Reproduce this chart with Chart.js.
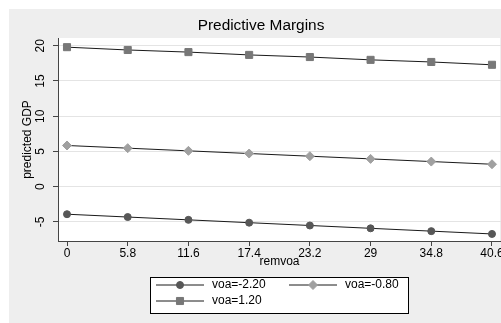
<!DOCTYPE html>
<html>
<head>
<meta charset="utf-8">
<script src="https://cdn.jsdelivr.net/npm/chart.js@4.4.1/dist/chart.umd.min.js"></script>
<style>
  body { margin: 0; background: #fff; }
  #wrap { width: 501px; height: 323px; }
</style>
</head>
<body>
<div id="wrap"><canvas id="marginsChart" width="501" height="323"></canvas></div>
<script>
// remvoa values (x axis ticks and points)
const remvoa = [0, 5.8, 11.6, 17.4, 23.2, 29, 34.8, 40.6];
const yTicks = [-5, 0, 5, 10, 15, 20];

// predicted GDP for each voa level
const voaLow = [-3.9, -4.3, -4.7, -5.1, -5.5, -5.9, -6.3, -6.7];   // voa=-2.20
const voaMid = [5.85, 5.47, 5.09, 4.71, 4.33, 3.95, 3.57, 3.19];  // voa=-0.80
const voaHigh = [19.8, 19.4, 19.1, 18.7, 18.4, 18.0, 17.7, 17.3]; // voa=1.20

const FONT = 'Liberation Sans, Arial, sans-serif';

function toPoints(ys) {
    return remvoa.map((x, i) => ({ x: x, y: ys[i] }));
}

const series = [
    { label: 'voa=-2.20', data: voaLow, color: '#575757', style: 'circle', r: 3.5 },
    { label: 'voa=-0.80', data: voaMid, color: '#a0a0a0', style: 'rectRot', r: 4.5 },
    { label: 'voa=1.20', data: voaHigh, color: '#777777', style: 'rect', r: 5 }
];

// background panels, title, rotated y labels and the boxed legend
const stataLook = {
    id: 'stataLook',
    beforeDraw(chart) {
        const c = chart.ctx, a = chart.chartArea;
        c.save();
        c.fillStyle = '#eeeeee';
        c.fillRect(9, 9, chart.width - 9, chart.height - 9);
        c.fillStyle = '#ffffff';
        c.fillRect(a.left, a.top, a.right - a.left - 1, a.bottom - a.top);
        c.restore();
    },
    afterDraw(chart) {
        const c = chart.ctx, a = chart.chartArea;
        const ys = chart.scales.y;
        c.save();
        c.fillStyle = '#000';
        c.textBaseline = 'middle';
        c.textAlign = 'center';

        // title is a little wide in the original
        c.save();
        c.translate(261, 26);
        c.scale(1.1, 1);
        c.font = '14px ' + FONT;
        c.fillText('Predictive Margins', 0, 0);
        c.restore();

        c.font = '12px ' + FONT;
        c.fillText('remvoa', (a.left + a.right) / 2, 262);

        // y tick labels, rotated like Stata
        yTicks.forEach(v => {
            c.save();
            c.translate(41, ys.getPixelForValue(v));
            c.rotate(-Math.PI / 2);
            c.fillText(String(v), 0, 0);
            c.restore();
        });
        c.save();
        c.translate(28, (a.top + a.bottom) / 2);
        c.rotate(-Math.PI / 2);
        c.fillText('predicted GDP', 0, 0);
        c.restore();

        // legend
        c.fillStyle = '#fff';
        c.fillRect(150.5, 277.5, 258, 36);
        c.strokeStyle = '#000';
        c.lineWidth = 1;
        c.strokeRect(150.5, 277.5, 258, 36);
        const slots = [
            { x: 156, y: 285 },
            { x: 289, y: 285 },
            { x: 156, y: 301 }
        ];
        series.forEach((s, i) => {
            const p = slots[i];
            c.strokeStyle = '#1a1a1a';
            c.beginPath();
            c.moveTo(p.x, p.y);
            c.lineTo(p.x + 48, p.y);
            c.stroke();
            c.fillStyle = s.color;
            c.strokeStyle = s.color;
            Chart.helpers.drawPoint(c, { pointStyle: s.style, radius: s.r, borderWidth: 1, rotation: 0 }, p.x + 24, p.y);
            c.fillStyle = '#000';
            c.textAlign = 'left';
            c.fillText(s.label, p.x + 56, p.y);
        });
        c.restore();
    }
};

const ctx = document.getElementById('marginsChart').getContext('2d');
new Chart(ctx, {
    type: 'line',
    data: {
        datasets: series.map(s => ({
            label: s.label,
            data: toPoints(s.data),
            borderColor: '#1a1a1a',
            borderWidth: 1,
            pointStyle: s.style,
            pointRadius: s.r,
            pointBackgroundColor: s.color,
            pointBorderColor: s.color,
            pointBorderWidth: 1,
            tension: 0,
            fill: false,
            clip: false
        }))
    },
    options: {
        responsive: false,
        animation: false,
        layout: {
            autoPadding: false,
            padding: { left: 0, top: 38, right: 0, bottom: 52 }
        },
        plugins: {
            legend: { display: false },
            title: { display: false },
            tooltip: { enabled: false }
        },
        scales: {
            x: {
                type: 'linear',
                min: -0.86,
                max: 41.46,
                afterBuildTicks: function(scale) {
                    scale.ticks = remvoa.map(v => ({ value: v }));
                },
                afterFit: function(scale) {
                    scale.height = 30;
                    scale.paddingLeft = 0;
                    scale.paddingRight = 0;
                },
                grid: {
                    drawOnChartArea: false,
                    drawTicks: true,
                    tickLength: 5,
                    tickColor: '#444'
                },
                border: { display: true, color: '#444', width: 1 },
                ticks: {
                    autoSkip: false,
                    maxRotation: 0,
                    padding: 0,
                    color: '#000',
                    font: { family: FONT, size: 12 },
                    callback: function(value) {
                        return String(value);
                    }
                }
            },
            y: {
                min: -7.7,
                max: 21.1,
                afterBuildTicks: function(scale) {
                    scale.ticks = yTicks.map(v => ({ value: v }));
                },
                afterFit: function(scale) {
                    scale.width = 58;
                },
                grid: {
                    color: '#e4e4e4',
                    drawTicks: true,
                    tickLength: 5,
                    tickColor: '#444'
                },
                border: { display: true, color: '#444', width: 1 },
                ticks: { display: false }
            }
        }
    },
    plugins: [stataLook]
});
</script>
</body>
</html>
